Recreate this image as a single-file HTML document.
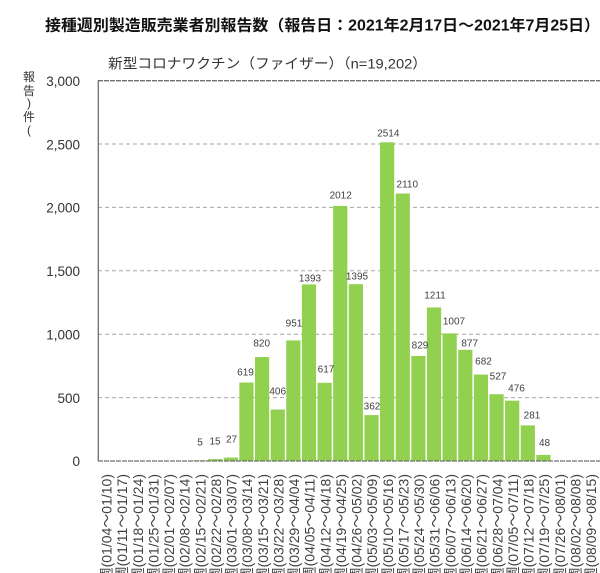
<!DOCTYPE html>
<html>
<head>
<meta charset="utf-8">
<style>
html,body{margin:0;padding:0;background:#fff;width:600px;height:573px;overflow:hidden;}
svg{display:block;overflow:hidden;}
text{font-family:"Liberation Sans","Noto Sans CJK JP",sans-serif;}
</style>
</head>
<body>
<svg width="600" height="573" viewBox="0 0 600 573" xmlns="http://www.w3.org/2000/svg">
<defs>
<clipPath id="frame"><rect x="0" y="0" width="600" height="573"/></clipPath>
</defs>
<g clip-path="url(#frame)">
<rect width="600" height="573" fill="#fff"/>
<!-- Title -->
<text x="45" y="30.5" font-size="15.5" font-weight="bold" fill="#111" textLength="555" lengthAdjust="spacingAndGlyphs">接種週別製造販売業者別報告数（報告日：2021年2月17日～2021年7月25日）</text>
<!-- Subtitle -->
<text x="108" y="68.5" font-size="14" fill="#333" textLength="319" lengthAdjust="spacingAndGlyphs">新型コロナワクチン（ファイザー）（n=19,202）</text>

<!-- Y axis title -->
<g font-size="12" fill="#333" text-anchor="middle">
<text x="29" y="81">報</text>
<text x="29" y="95">告</text>
<text x="29" y="107">)</text>
<text x="29" y="121">件</text>
<text x="29" y="134">(</text>
</g>

<!-- Gridlines -->
<g stroke="#a6a6a6" stroke-width="1" stroke-dasharray="4,3">
<line x1="98" y1="397.6" x2="600" y2="397.6"/>
<line x1="98" y1="334.2" x2="600" y2="334.2"/>
<line x1="98" y1="270.8" x2="600" y2="270.8"/>
<line x1="98" y1="207.4" x2="600" y2="207.4"/>
<line x1="98" y1="144.0" x2="600" y2="144.0"/>
</g>
<line x1="98" y1="80.7" x2="600" y2="80.7" stroke="#6e6e6e" stroke-width="1.3" stroke-dasharray="5,1"/>

<!-- Y tick labels -->
<g font-size="13.5" fill="#333" text-anchor="end">
<text x="80" y="86">3,000</text>
<text x="80" y="149.3">2,500</text>
<text x="80" y="212.7">2,000</text>
<text x="80" y="276.1">1,500</text>
<text x="80" y="339.5">1,000</text>
<text x="80" y="402.9">500</text>
<text x="80" y="466">0</text>
</g>

<!-- Bars -->
<g fill="#92D050">
<rect x="192.48" y="460.37" width="14.2" height="0.63"/>
<rect x="208.11" y="459.1" width="14.2" height="1.9"/>
<rect x="223.74" y="457.58" width="14.2" height="3.42"/>
<rect x="239.37" y="382.53" width="14.2" height="78.47"/>
<rect x="255.0" y="357.05" width="14.2" height="103.95"/>
<rect x="270.63" y="409.53" width="14.2" height="51.47"/>
<rect x="286.26" y="340.44" width="14.2" height="120.56"/>
<rect x="301.89" y="284.41" width="14.2" height="176.59"/>
<rect x="317.52" y="382.78" width="14.2" height="78.22"/>
<rect x="333.15" y="205.94" width="14.2" height="255.06"/>
<rect x="348.78" y="284.16" width="14.2" height="176.84"/>
<rect x="364.41" y="415.11" width="14.2" height="45.89"/>
<rect x="380.04" y="142.31" width="14.2" height="318.69"/>
<rect x="395.67" y="193.52" width="14.2" height="267.48"/>
<rect x="411.3" y="355.91" width="14.2" height="105.09"/>
<rect x="426.93" y="307.48" width="14.2" height="153.52"/>
<rect x="442.56" y="333.35" width="14.2" height="127.65"/>
<rect x="458.19" y="349.82" width="14.2" height="111.18"/>
<rect x="473.82" y="374.54" width="14.2" height="86.46"/>
<rect x="489.45" y="394.19" width="14.2" height="66.81"/>
<rect x="505.08" y="400.66" width="14.2" height="60.34"/>
<rect x="520.71" y="425.38" width="14.2" height="35.62"/>
<rect x="536.34" y="454.92" width="14.2" height="6.08"/>
</g>

<!-- Axes -->
<line x1="98" y1="461" x2="600" y2="461" stroke="#6e6e6e" stroke-width="1.3" stroke-dasharray="5,1"/>
<line x1="98.3" y1="80.7" x2="98.3" y2="461" stroke="#6e6e6e" stroke-width="1.3"/>

<!-- Value labels -->
<g font-size="10" fill="#404040" text-anchor="middle">
<text x="200" y="445.6">5</text>
<text x="215" y="444.3">15</text>
<text x="231.5" y="442.6">27</text>
<text x="245.5" y="375.3">619</text>
<text x="261.7" y="346.6">820</text>
<text x="277.7" y="394.6">406</text>
<text x="294" y="326.6">951</text>
<text x="310" y="281.6">1393</text>
<text x="326" y="372.6">617</text>
<text x="340.7" y="198.6">2012</text>
<text x="357" y="279.6">1395</text>
<text x="372" y="409.6">362</text>
<text x="388.3" y="136.5">2514</text>
<text x="407.3" y="187.6">2110</text>
<text x="420" y="348.6">829</text>
<text x="435" y="298.6">1211</text>
<text x="454" y="324.6">1007</text>
<text x="469.7" y="346.3">877</text>
<text x="483.5" y="364.3">682</text>
<text x="498" y="379.3">527</text>
<text x="516.5" y="391.3">476</text>
<text x="532" y="418.6">281</text>
<text x="544.5" y="445.9">48</text>
</g>

<!-- X labels -->
<g font-size="14" fill="#404040" text-anchor="end">
<text transform="translate(111.5,474) rotate(-90)">週(01/04～01/10)</text>
<text transform="translate(127.13,474) rotate(-90)">週(01/11～01/17)</text>
<text transform="translate(142.76,474) rotate(-90)">週(01/18～01/24)</text>
<text transform="translate(158.39,474) rotate(-90)">週(01/25～01/31)</text>
<text transform="translate(174.02,474) rotate(-90)">週(02/01～02/07)</text>
<text transform="translate(189.65,474) rotate(-90)">週(02/08～02/14)</text>
<text transform="translate(205.28,474) rotate(-90)">週(02/15～02/21)</text>
<text transform="translate(220.91,474) rotate(-90)">週(02/22～02/28)</text>
<text transform="translate(236.54,474) rotate(-90)">週(03/01～03/07)</text>
<text transform="translate(252.17,474) rotate(-90)">週(03/08～03/14)</text>
<text transform="translate(267.8,474) rotate(-90)">週(03/15～03/21)</text>
<text transform="translate(283.43,474) rotate(-90)">週(03/22～03/28)</text>
<text transform="translate(299.06,474) rotate(-90)">週(03/29～04/04)</text>
<text transform="translate(314.69,474) rotate(-90)">週(04/05～04/11)</text>
<text transform="translate(330.32,474) rotate(-90)">週(04/12～04/18)</text>
<text transform="translate(345.95,474) rotate(-90)">週(04/19～04/25)</text>
<text transform="translate(361.58,474) rotate(-90)">週(04/26～05/02)</text>
<text transform="translate(377.21,474) rotate(-90)">週(05/03～05/09)</text>
<text transform="translate(392.84,474) rotate(-90)">週(05/10～05/16)</text>
<text transform="translate(408.47,474) rotate(-90)">週(05/17～05/23)</text>
<text transform="translate(424.1,474) rotate(-90)">週(05/24～05/30)</text>
<text transform="translate(439.73,474) rotate(-90)">週(05/31～06/06)</text>
<text transform="translate(455.36,474) rotate(-90)">週(06/07～06/13)</text>
<text transform="translate(470.99,474) rotate(-90)">週(06/14～06/20)</text>
<text transform="translate(486.62,474) rotate(-90)">週(06/21～06/27)</text>
<text transform="translate(502.25,474) rotate(-90)">週(06/28～07/04)</text>
<text transform="translate(517.88,474) rotate(-90)">週(07/05～07/11)</text>
<text transform="translate(533.51,474) rotate(-90)">週(07/12～07/18)</text>
<text transform="translate(549.14,474) rotate(-90)">週(07/19～07/25)</text>
<text transform="translate(564.77,474) rotate(-90)">週(07/26～08/01)</text>
<text transform="translate(580.4,474) rotate(-90)">週(08/02～08/08)</text>
<text transform="translate(596.03,474) rotate(-90)">週(08/09～08/15)</text>
</g>
</g>
</svg>
</body>
</html>
